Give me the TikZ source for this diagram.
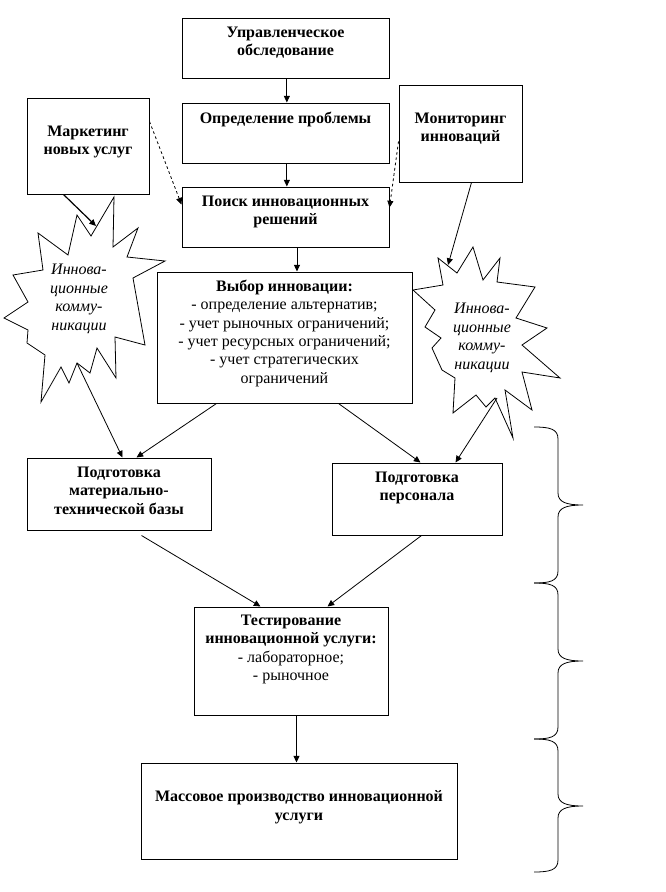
\documentclass[tikz,border=0pt]{standalone}
\usepackage{fontspec}
\setmainfont{Liberation Serif}
\newfontfamily\starfont{Liberation Serif Italic}
\usetikzlibrary{arrows.meta,fit}
\begin{document}
\begin{tikzpicture}[x=0.75pt,y=-0.75pt,
  box/.style={draw,line width=0.75pt,inner sep=0pt},
  txt/.style={anchor=north,align=center,inner sep=0pt,font=\fontsize{12pt}{13.8pt}\selectfont\bfseries},
  lsttxt/.style={anchor=north,align=center,inner sep=0pt,font=\fontsize{12pt}{13.8pt}\selectfont},
  startxt/.style={align=center,inner sep=0pt,font=\starfont\fontsize{12pt}{14pt}\selectfont},
  arr/.style={line width=0.6pt,-{Triangle[length=5pt,width=4.5pt]}},
  darr/.style={arr,dash pattern=on 2pt off 2pt},
  starline/.style={line width=0.6pt,line join=miter},
  bracel/.style={line width=0.6pt}]
\fill[white] (0,0) rectangle (666,892);
\useasboundingbox (0,0) rectangle (666,892);

% boxes
\node[box,fit={(182,19)(389,79)}] (b1) {};
\node[txt] (t1) at ([yshift=-6pt]b1.north) {Управленческое\\обследование};
\node[box,fit={(182,103)(389,163)}] (b2) {};
\node[txt] (t2) at ([yshift=-6.75pt]b2.north) {Определение проблемы};
\node[box,fit={(182,187)(389,247)}] (b3) {};
\node[txt] (t3) at ([yshift=-6.75pt]b3.north) {Поиск инновационных\\решений};
\node[box,fit={(27,98)(149,194)}] (mk) {};
\node[txt] (tmk) at ([yshift=-21pt]mk.north) {Маркетинг\\новых услуг};
\node[box,fit={(399,86)(522,182)}] (mon) {};
\node[txt] (tmon) at ([yshift=-20.25pt]mon.north) {Мониторинг\\инноваций};
\node[box,fit={(157,272)(412,403)}] (vyb) {};
\node[lsttxt] (tvyb) at ([yshift=-6pt]vyb.north) {\textbf{Выбор инновации:}\\- определение альтернатив;\\- учет рыночных ограничений;\\- учет ресурсных ограничений;\\- учет стратегических\\ограничений};
\node[box,fit={(27,458)(211,530)}] (mtb) {};
\node[txt] (tmtb) at ([yshift=-6.75pt]mtb.north) {Подготовка\\материально-\\технической базы};
\node[box,fit={(332,463)(502,535)}] (pers) {};
\node[txt] (tpers) at ([yshift=-6.75pt]pers.north) {Подготовка\\персонала};
\node[box,fit={(194,607)(388,715)}] (test) {};
\node[lsttxt] (ttest) at ([yshift=-6pt]test.north) {\textbf{Тестирование}\\\textbf{инновационной услуги:}\\- лабораторное;\\- рыночное};
\node[box,fit={(141,763)(457,859)}] (mass) {};
\node[txt] (tmass) at ([yshift=-21pt]mass.north) {Массовое производство инновационной\\услуги};

% stars
\draw[starline] (114,197) -- (113,247) -- (138,228) -- (127,257) -- (165,261) -- (133,278)
  -- (145,345) -- (115,337) -- (116,378) -- (97,348) -- (90,373) -- (77,363) -- (69,383)
  -- (61,367) -- (41,402) -- (45,355) -- (27,343) -- (28,330) -- (4,318) -- (28,302)
  -- (13,275) -- (43,270) -- (38,233) -- (68,255) -- (77,215) -- (91,236) -- cycle;
\node[startxt] (st1) at (79,299) {Иннова-\\ционные\\комму-\\никации};
\draw[starline] (438,258) -- (457,273) -- (473,247) -- (483,280) -- (500,258) -- (497,282)
  -- (535,287) -- (516,318) -- (547,328) -- (522,345) -- (560,378) -- (522,372) -- (532,410)
  -- (505,390) -- (513,438) -- (495,398) -- (486,407) -- (476,395) -- (453,413) -- (455,378)
  -- (442,370) -- (432,348) -- (441,338) -- (425,327) -- (435,310) -- (413,290) -- (443,285) -- cycle;
\node[startxt] (st2) at (482,338) {Иннова-\\ционные\\комму-\\никации};
\coordinate (s1top) at (96,226);
\coordinate (s1bot) at (77,363);
\coordinate (s2top) at (448,265);
\coordinate (s2bot) at (497,398);

% arrows
\draw[arr] ([xshift=1pt]b1.south) -- ([xshift=1pt]b2.north);
\draw[arr] ([xshift=1pt]b2.south) -- ([xshift=1pt]b3.north);
\draw[arr] ([xshift=8.6pt]b3.south) -- ([xshift=8.6pt]b3.south |- vyb.north);
\draw[darr] ([yshift=-18pt]mk.north east) -- ([yshift=-13.5pt]b3.north west);
\draw[darr] ([yshift=-42pt]mon.north west) -- ([yshift=-15.75pt]b3.north east);
\draw[arr,line width=0.9pt] ([xshift=27.75pt]mk.south west) -- (s1top);
\draw[arr] ([xshift=54.75pt]mon.south west) -- (s2top);
\draw[arr] (s1bot) -- ([xshift=72pt]mtb.north west);
\draw[arr] (s2bot) -- ([xshift=93pt]pers.north west);
\draw[arr] ([xshift=45pt]vyb.south west) -- ([xshift=82.5pt]mtb.north west);
\draw[arr] ([xshift=136.5pt]vyb.south west) -- ([xshift=66.75pt]pers.north west);
\draw[arr] ([xshift=86.25pt,yshift=-3.75pt]mtb.south west) -- ([xshift=50.25pt]test.north west);
\draw[arr] ([xshift=67.5pt]pers.south west) -- ([xshift=100.5pt]test.north west);
\draw[arr] ([xshift=77.25pt]test.south west) -- ([xshift=77.25pt]test.south west |- mass.north);

% braces
\draw[bracel] (534,427) .. controls (550,427) and (558,429) .. (558,439) -- (558,493)
  .. controls (558,502) and (566,505) .. (583,505) .. controls (566,505) and (558,508) .. (558,517)
  -- (558,571) .. controls (558,581) and (550,583) .. (534,583);
\draw[bracel] (534,583) .. controls (550,583) and (558,585) .. (558,595) -- (558,649)
  .. controls (558,658) and (566,661) .. (583,661) .. controls (566,661) and (558,664) .. (558,673)
  -- (558,727) .. controls (558,737) and (550,739) .. (534,739);
\draw[bracel] (534,739) .. controls (550,739) and (558,741) .. (558,751) -- (558,794)
  .. controls (558,803) and (566,806) .. (583,806) .. controls (566,806) and (558,809) .. (558,818)
  -- (558,860) .. controls (558,870) and (550,872) .. (534,872);
\end{tikzpicture}
\end{document}
